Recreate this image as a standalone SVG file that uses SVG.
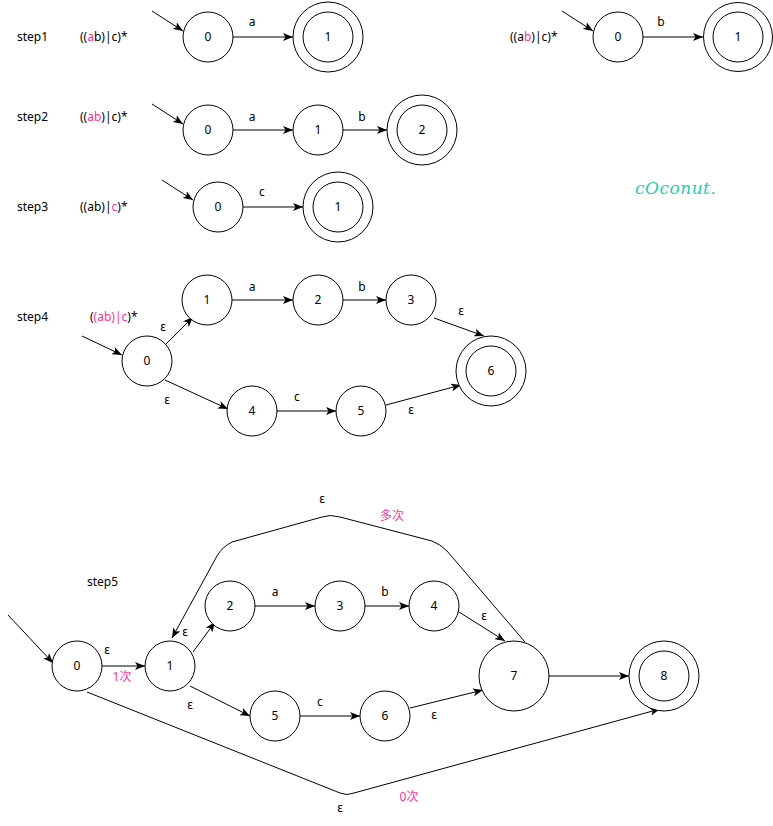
<svg xmlns="http://www.w3.org/2000/svg" width="773" height="826" viewBox="0 0 773 826">
<style>
text{font-family:"Noto Sans","Open Sans","Noto Sans CJK SC",sans-serif;font-size:12px;fill:#000}
.m{text-anchor:middle}
.p{fill:#ff3399}
circle{fill:#fff;stroke:#000;stroke-width:1}
.e{fill:none;stroke:#000;stroke-width:1;marker-end:url(#ah)}
.n{fill:none;stroke:#000;stroke-width:1}
</style>
<defs>
<marker id="ah" viewBox="0 0 10 8" refX="10" refY="4" markerWidth="10" markerHeight="8" orient="auto" markerUnits="userSpaceOnUse">
<path d="M0,0 L10,4 L0,8 L2.5,4 Z" fill="#000"/>
</marker>
</defs>
<rect width="773" height="826" fill="#fff"/>

<!-- static labels -->
<g id="labels">
<text x="17" y="41">step1</text>
<text x="80" y="41">((<tspan class="p">a</tspan>b)|c)*</text>
<text x="510" y="41">((a<tspan class="p">b</tspan>)|c)*</text>
<text x="17" y="121">step2</text>
<text x="80" y="121">((<tspan class="p">ab</tspan>)|c)*</text>
<text x="17" y="211">step3</text>
<text x="80" y="211">((ab)|<tspan class="p">c</tspan>)*</text>
<text x="17" y="321">step4</text>
<text x="90" y="321">(<tspan class="p">(ab)|c</tspan>)*</text>
<text x="87" y="586">step5</text>
<text x="635" y="194" style="font-family:'DejaVu Serif',cursive;font-style:italic;font-size:17px;fill:#22cfae;letter-spacing:0.5px">cOconut.</text>
</g>

<!-- connectors -->
<g id="connectors">
<!-- step1 -->
<line class="e" x1="152" y1="11" x2="183" y2="31"/>
<line class="e" x1="233" y1="37" x2="293" y2="37"/>
<text class="m" x="252" y="26">a</text>
<!-- right -->
<line class="e" x1="562" y1="11" x2="593" y2="31"/>
<line class="e" x1="643" y1="37" x2="703" y2="37"/>
<text class="m" x="661" y="26">b</text>
<!-- step2 -->
<line class="e" x1="152" y1="104" x2="183" y2="124"/>
<line class="e" x1="233" y1="130" x2="293" y2="130"/>
<text class="m" x="252" y="121">a</text>
<line class="e" x1="343" y1="130" x2="387" y2="130"/>
<text class="m" x="362" y="121">b</text>
<!-- step3 -->
<line class="e" x1="162" y1="180" x2="193" y2="200"/>
<line class="e" x1="243" y1="207" x2="303" y2="207"/>
<text class="m" x="262" y="196">c</text>
<!-- step4 -->
<line class="e" x1="82" y1="336" x2="122" y2="355"/>
<line class="e" x1="166" y1="344" x2="193" y2="317"/>
<text class="m" x="163" y="331">ε</text>
<line class="e" x1="232" y1="300" x2="293" y2="300"/>
<text class="m" x="252" y="291">a</text>
<line class="e" x1="343" y1="300" x2="386" y2="300"/>
<text class="m" x="362" y="291">b</text>
<line class="e" x1="434" y1="318" x2="484" y2="336"/>
<text class="m" x="461" y="315">ε</text>
<line class="e" x1="165" y1="380" x2="228" y2="409"/>
<text class="m" x="167" y="404">ε</text>
<line class="e" x1="277" y1="411" x2="336" y2="411"/>
<text class="m" x="297" y="401">c</text>
<line class="e" x1="386" y1="405" x2="461" y2="385"/>
<text class="m" x="411" y="414">ε</text>
<!-- step5 -->
<line class="e" x1="8" y1="615" x2="53" y2="663"/>
<line class="e" x1="102" y1="666" x2="145" y2="666"/>
<text class="m" x="107" y="654">ε</text>
<text class="m p" x="122" y="681">1次</text>
<line class="e" x1="193" y1="652" x2="215" y2="622"/>
<text class="m" x="185" y="636">ε</text>
<line class="e" x1="255" y1="606" x2="315" y2="606"/>
<text class="m" x="275" y="596">a</text>
<line class="e" x1="365" y1="606" x2="409" y2="606"/>
<text class="m" x="385" y="596">b</text>
<line class="e" x1="459" y1="612" x2="505" y2="641"/>
<text class="m" x="484" y="620">ε</text>
<line class="e" x1="190" y1="686" x2="250" y2="716"/>
<text class="m" x="190" y="709">ε</text>
<line class="e" x1="300" y1="716" x2="360" y2="716"/>
<text class="m" x="320" y="706">c</text>
<line class="e" x1="410" y1="708" x2="483" y2="690"/>
<text class="m" x="434" y="719">ε</text>
<line class="e" x1="549" y1="676" x2="629" y2="676"/>
<path class="e" d="M525,642 L447,551 Q440,544 432,541 L340,517 Q330,514 322,517 L232,542 Q222,547 217,556 L172,638"/>
<text class="m" x="322" y="503">ε</text>
<text class="m p" x="392" y="520">多次</text>
<path class="e" d="M87,692 L340,793 Q347,796 354,793 L660,709"/>
<text class="m" x="340" y="812">ε</text>
<text class="m p" x="409" y="801">0次</text>
</g>

<!-- step1 nodes -->
<g id="s1n0"><circle cx="208" cy="37" r="25"/><text class="m" x="208" y="41">0</text></g>
<g id="s1n1"><circle cx="328" cy="37" r="35"/><circle cx="328" cy="37" r="25"/><text class="m" x="328" y="41">1</text></g>
<g id="rn0"><circle cx="618" cy="37" r="25"/><text class="m" x="618" y="41">0</text></g>
<g id="rn1"><circle cx="738" cy="37" r="34.5"/><circle cx="738" cy="37" r="25"/><text class="m" x="738" y="41">1</text></g>
<!-- step2 -->
<g id="s2n0"><circle cx="208" cy="130" r="25"/><text class="m" x="208" y="134">0</text></g>
<g id="s2n1"><circle cx="318" cy="130" r="25"/><text class="m" x="318" y="134">1</text></g>
<g id="s2n2"><circle cx="422" cy="130" r="35"/><circle cx="422" cy="130" r="25"/><text class="m" x="422" y="134">2</text></g>
<!-- step3 -->
<g id="s3n0"><circle cx="218" cy="207" r="25"/><text class="m" x="218" y="211">0</text></g>
<g id="s3n1"><circle cx="338" cy="207" r="35"/><circle cx="338" cy="207" r="25"/><text class="m" x="338" y="211">1</text></g>
<!-- step4 -->
<g id="s4n0"><circle cx="147" cy="361" r="25"/><text class="m" x="147" y="365">0</text></g>
<g id="s4n1"><circle cx="207" cy="300" r="25"/><text class="m" x="207" y="304">1</text></g>
<g id="s4n2"><circle cx="318" cy="300" r="25"/><text class="m" x="318" y="304">2</text></g>
<g id="s4n3"><circle cx="411" cy="300" r="25"/><text class="m" x="411" y="304">3</text></g>
<g id="s4n4"><circle cx="252" cy="411" r="25"/><text class="m" x="252" y="415">4</text></g>
<g id="s4n5"><circle cx="361" cy="411" r="25"/><text class="m" x="361" y="415">5</text></g>
<g id="s4n6"><circle cx="491" cy="371" r="35"/><circle cx="491" cy="371" r="25"/><text class="m" x="491" y="375">6</text></g>
<!-- step5 -->
<g id="s5n0"><circle cx="77" cy="666" r="25"/><text class="m" x="77" y="670">0</text></g>
<g id="s5n1"><circle cx="170" cy="666" r="25"/><text class="m" x="170" y="670">1</text></g>
<g id="s5n2"><circle cx="230" cy="606" r="25"/><text class="m" x="230" y="610">2</text></g>
<g id="s5n3"><circle cx="340" cy="606" r="25"/><text class="m" x="340" y="610">3</text></g>
<g id="s5n4"><circle cx="434" cy="606" r="25"/><text class="m" x="434" y="610">4</text></g>
<g id="s5n5"><circle cx="275" cy="716" r="25"/><text class="m" x="275" y="720">5</text></g>
<g id="s5n6"><circle cx="385" cy="716" r="25"/><text class="m" x="385" y="720">6</text></g>
<g id="s5n7"><circle cx="514" cy="676" r="35"/><text class="m" x="514" y="680">7</text></g>
<g id="s5n8"><circle cx="664" cy="676" r="35"/><circle cx="664" cy="676" r="25"/><text class="m" x="664" y="680">8</text></g>
</svg>
